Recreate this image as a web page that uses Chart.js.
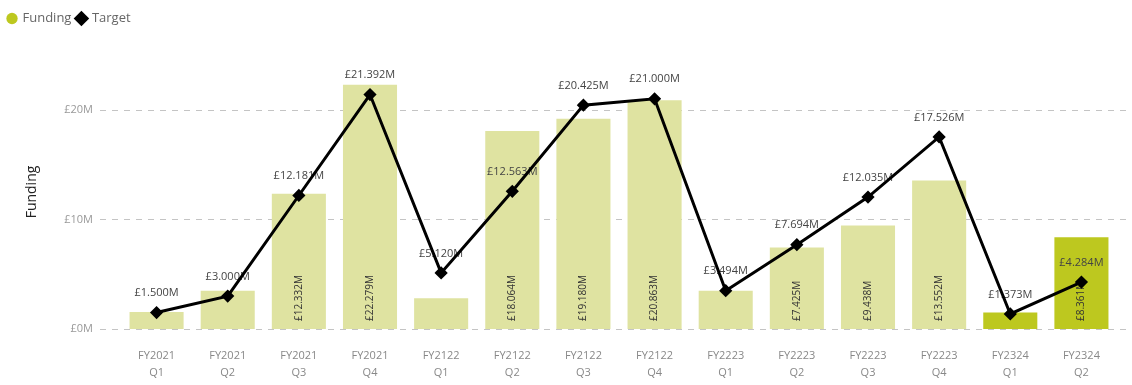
<!DOCTYPE html>
<html>
<head>
<meta charset="utf-8">
<script src="https://cdn.jsdelivr.net/npm/chart.js@4"></script>
<style>
  html, body { margin: 0; padding: 0; background: #fff; }
  #wrap { width: 1132px; height: 385px; }
</style>
</head>
<body>
<div id="wrap"><canvas id="funding-chart"></canvas></div>
<script>
const quarters = [
  ['FY2021', 'Q1'], ['FY2021', 'Q2'], ['FY2021', 'Q3'], ['FY2021', 'Q4'],
  ['FY2122', 'Q1'], ['FY2122', 'Q2'], ['FY2122', 'Q3'], ['FY2122', 'Q4'],
  ['FY2223', 'Q1'], ['FY2223', 'Q2'], ['FY2223', 'Q3'], ['FY2223', 'Q4'],
  ['FY2324', 'Q1'], ['FY2324', 'Q2']
];
// values in £M
const funding = [1.55, 3.5, 12.332, 22.279, 2.8, 18.064, 19.180, 20.863, 3.5, 7.425, 9.438, 13.552, 1.5, 8.361];
const target = [1.5, 3.0, 12.181, 21.392, 5.120, 12.563, 20.425, 21.000, 3.494, 7.694, 12.035, 17.526, 1.373, 4.284];
const yTicks = [0, 10, 20];

const pastColour = '#dfe3a1';
const currentColour = '#bdc81f';
const barColours = quarters.map(q => q[0] === 'FY2324' ? currentColour : pastColour);

const money = v => '£' + v.toFixed(3) + 'M';

// extra room between the legend and the plot
const legendGap = {
  id: 'legendGap',
  beforeInit(chart) {
    const fit = chart.legend.fit;
    chart.legend.fit = function () {
      fit.call(this);
      this.height += 20;
    };
  }
};

// dashed gridlines run a little wider than the bars
const gridLines = {
  id: 'gridLines',
  beforeDatasetsDraw(chart) {
    const { ctx, chartArea, scales } = chart;
    ctx.save();
    ctx.strokeStyle = '#c4c4c4';
    ctx.lineWidth = 1;
    ctx.setLineDash([6, 6]);
    yTicks.forEach(t => {
      const y = Math.round(scales.y.getPixelForValue(t)) + 0.5;
      ctx.beginPath();
      ctx.moveTo(chartArea.left - 21, y);
      ctx.lineTo(chartArea.right + 14, y);
      ctx.stroke();
    });
    ctx.restore();
  }
};

// value labels: rotated inside the bars, above the target points
const valueLabels = {
  id: 'valueLabels',
  afterDatasetDraw(chart, args) {
    if (args.index !== 0) return;
    const { ctx, scales } = chart;
    const base = scales.y.getPixelForValue(0);
    ctx.save();
    ctx.font = '10px "Open Sans", sans-serif';
    ctx.fillStyle = '#333';
    chart.getDatasetMeta(0).data.forEach((bar, i) => {
      if (funding[i] < 6) return;
      ctx.save();
      ctx.translate(bar.x, base - 8);
      ctx.rotate(-Math.PI / 2);
      ctx.textAlign = 'left';
      ctx.textBaseline = 'middle';
      ctx.fillText(money(funding[i]), 0, 0);
      ctx.restore();
    });
    ctx.font = '11px "Open Sans", sans-serif';
    ctx.fillStyle = '#444';
    ctx.textAlign = 'center';
    ctx.textBaseline = 'bottom';
    chart.getDatasetMeta(1).data.forEach((pt, i) => {
      ctx.fillText(money(target[i]), pt.x, pt.y - 14);
    });
    ctx.restore();
  }
};

new Chart(document.getElementById('funding-chart'), {
  type: 'bar',
  data: {
    labels: quarters,
    datasets: [{
      label: 'Funding',
      data: funding,
      backgroundColor: barColours,
      categoryPercentage: 1,
      barPercentage: 0.76,
      pointStyle: 'circle',
      order: 2
    }, {
      type: 'line',
      label: 'Target',
      data: target,
      borderColor: '#000',
      backgroundColor: '#000',
      borderWidth: 3,
      pointStyle: 'rectRot',
      pointRadius: 4.5,
      pointBackgroundColor: '#000',
      tension: 0,
      order: 1
    }]
  },
  options: {
    responsive: true,
    maintainAspectRatio: false,
    animation: false,
    layout: { padding: { left: 2, right: 15, top: 6, bottom: 0 } },
    plugins: {
      tooltip: { enabled: false },
      legend: {
        position: 'top',
        align: 'start',
        labels: {
          usePointStyle: true,
          boxWidth: 8,
          boxHeight: 8,
          padding: 6,
          color: '#666',
          font: { family: '"Open Sans", sans-serif', size: 13 },
          sort: (a, b) => a.datasetIndex - b.datasetIndex,
          generateLabels(chart) {
            const items = Chart.defaults.plugins.legend.labels.generateLabels(chart);
            items.forEach(it => {
              if (it.datasetIndex === 0) {
                it.fillStyle = currentColour;
                it.strokeStyle = currentColour;
              }
            });
            return items;
          }
        }
      }
    },
    scales: {
      x: {
        afterFit: axis => { axis.height = 56; },
        grid: { display: false },
        border: { display: false },
        ticks: {
          color: '#888',
          font: { family: '"Open Sans", sans-serif', size: 11, lineHeight: 1.5 },
          maxRotation: 0,
          padding: 11
        }
      },
      y: {
        min: 0,
        max: 25,
        afterBuildTicks: axis => { axis.ticks = yTicks.map(v => ({ value: v })); },
        afterFit: axis => { axis.width = 119; },
        grid: { display: false, drawTicks: false },
        border: { display: false },
        ticks: {
          color: '#999',
          font: { family: '"Open Sans", sans-serif', size: 11 },
          padding: 28,
          callback: v => '£' + v + 'M'
        },
        title: {
          display: true,
          text: 'Funding',
          color: '#222',
          padding: { top: 22, bottom: 4 },
          font: { family: '"Open Sans", sans-serif', size: 14 }
        }
      }
    }
  },
  plugins: [legendGap, gridLines, valueLabels]
});
</script>
</body>
</html>
